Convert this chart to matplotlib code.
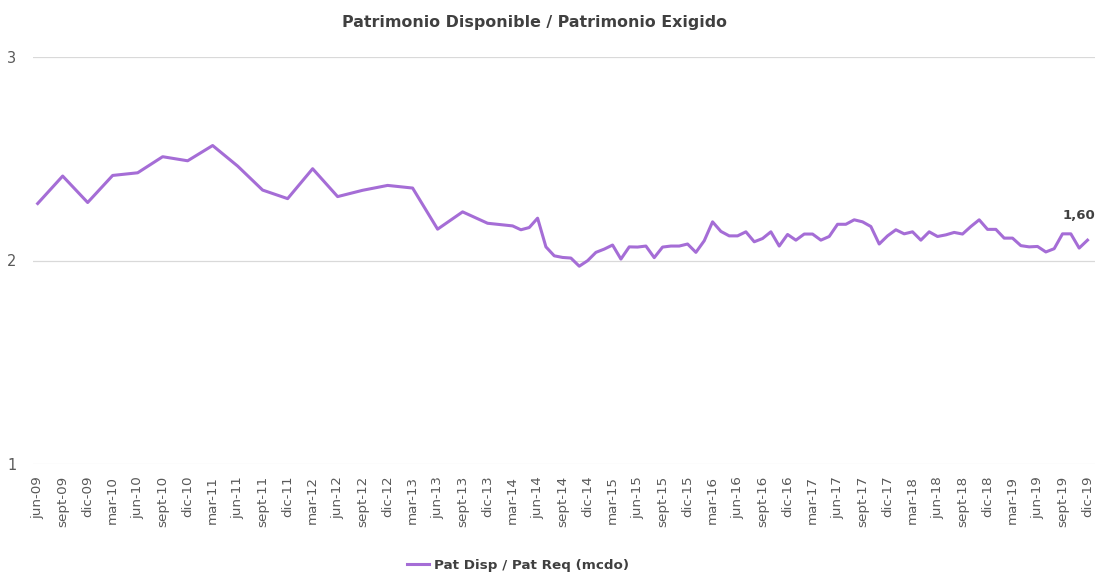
import matplotlib
matplotlib.use("Agg")
import matplotlib.pyplot as plt
import numpy as np

# month index counted from jun-09 (0) ; quarterly until mar-14, monthly after
quarterly_idx = list(range(0, 58, 3))
quarterly_val = [2.28, 2.415, 2.285, 2.418, 2.431, 2.51, 2.49, 2.565, 2.464, 2.346,
                 2.304, 2.451, 2.314, 2.345, 2.369, 2.356, 2.154, 2.239, 2.183, 2.170]
monthly_val = [2.151, 2.162, 2.208, 2.067, 2.023, 2.015, 2.012, 1.972, 1.999,   # apr-14 .. dic-14
               2.040, 2.056, 2.076, 2.007, 2.067, 2.066, 2.071, 2.014, 2.066, 2.071, 2.071, 2.081,  # 2015
               2.040, 2.097, 2.190, 2.143, 2.121, 2.121, 2.141, 2.092, 2.108, 2.141, 2.071, 2.128,  # 2016
               2.100, 2.130, 2.130, 2.100, 2.118, 2.178, 2.178, 2.200, 2.190, 2.167, 2.081, 2.121,  # 2017
               2.151, 2.131, 2.141, 2.100, 2.141, 2.118, 2.126, 2.138, 2.130, 2.167, 2.200, 2.153,  # 2018
               2.153, 2.110, 2.110, 2.073, 2.067, 2.069, 2.042, 2.058, 2.131, 2.131, 2.061, 2.100]  # 2019
monthly_idx = list(range(58, 58 + len(monthly_val)))

x = np.array(quarterly_idx + monthly_idx)
y = np.array(quarterly_val + monthly_val)

months = ["jun", "sept", "dic", "mar"]
tick_idx = list(range(0, 127, 3))
tick_lab = []
for k in tick_idx:
    m = months[(k // 3) % 4]
    yr = 9 + (k + 5) // 12
    tick_lab.append(f"{m}-{yr:02d}")

end_label = "1,60"
series_name = "Pat Disp / Pat Req (mcdo)"
title = "Patrimonio Disponible / Patrimonio Exigido"

plt.rcParams["font.family"] = ["DejaVu Sans"]
purple = "#A56DD6"
grey_txt = "#595959"

fig = plt.figure(figsize=(10.96, 5.74), dpi=100)
ax = fig.add_axes([33 / 1096, 110 / 574, 1062 / 1096, 407 / 574])
ax.plot(x, y, color=purple, lw=2.2, label=series_name)
ax.set_xlim(-0.56, 126.9)
ax.set_ylim(1, 3)
ax.set_yticks([1, 2, 3])
ax.set_yticklabels(["1", "2", "3"], fontsize=10.5, color=grey_txt)
ax.set_xticks(tick_idx)
ax.set_xticklabels(tick_lab, rotation=90, fontsize=9.7, color=grey_txt)
ax.tick_params(length=0, pad=8.5)
ax.tick_params(axis="y", pad=12)
for gy in (2, 3):
    ax.axhline(gy, color="#D9D9D9", lw=0.9, zorder=0)
ax.axhline(1, color="#EFEFEF", lw=0.9, zorder=0)
for s in ax.spines.values():
    s.set_visible(False)

ax.annotate(end_label, (x[-1], y[-1]), xytext=(-6, 13), textcoords="offset points",
            ha="center", va="bottom", fontsize=9.5, fontweight="bold", color="#404040")

fig.text(535 / 1096, 1 - 22 / 574, title, ha="center", va="center",
         fontsize=11.4, fontweight="bold", color="#404040")
fig.legend(loc="center", bbox_to_anchor=(518 / 1096, 1 - 565 / 574), frameon=False,
           handlelength=1.6, handletextpad=0.4,
           prop={"size": 9.7, "weight": "bold"}, labelcolor="#404040")

fig.savefig("out.png", dpi=100)
